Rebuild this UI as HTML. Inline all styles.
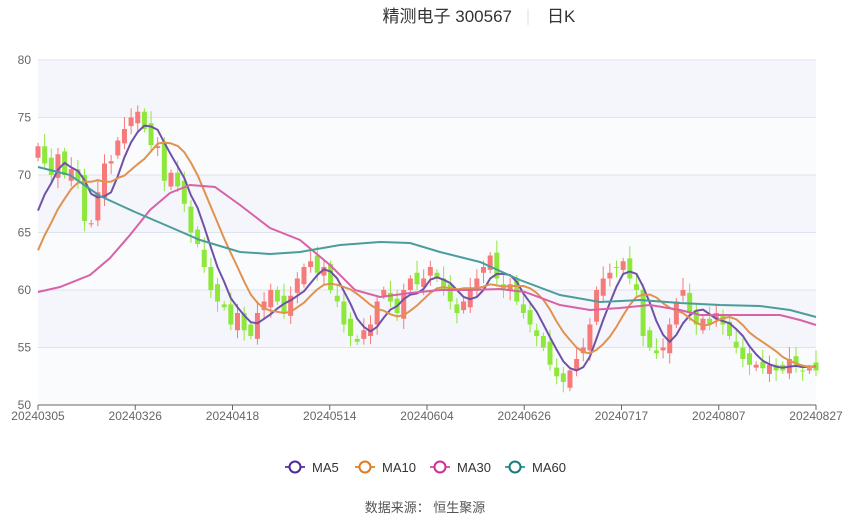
<!DOCTYPE html>
<html><head><meta charset="utf-8"><style>
body{margin:0;background:#fff;width:850px;height:517px;overflow:hidden;font-family:"Liberation Sans","Noto Sans CJK SC",sans-serif}
</style></head><body>
<svg id="s" width="850" height="517" xmlns="http://www.w3.org/2000/svg" font-family="Liberation Sans, Noto Sans CJK SC, sans-serif">
<text x="512" y="22" font-size="17" fill="#333" text-anchor="end">精测电子 300567</text>
<line x1="528" y1="9" x2="528" y2="25" stroke="#ddd"/>
<text x="547" y="22" font-size="17" fill="#333">日K</text>
<g id="g"></g>
<g font-size="13" fill="#333">
<line x1="285" y1="467" x2="305" y2="467" stroke="#6a4aa5" stroke-width="2"/><circle cx="295" cy="467" r="5.5" fill="#fff" stroke="#4b2a9a" stroke-width="2"/><text x="312" y="472">MA5</text>
<line x1="355" y1="467" x2="375" y2="467" stroke="#e0904a" stroke-width="2"/><circle cx="365" cy="467" r="5.5" fill="#fff" stroke="#e07a20" stroke-width="2"/><text x="382" y="472">MA10</text>
<line x1="430" y1="467" x2="450" y2="467" stroke="#d860a8" stroke-width="2"/><circle cx="440" cy="467" r="5.5" fill="#fff" stroke="#d02f90" stroke-width="2"/><text x="457" y="472">MA30</text>
<line x1="505" y1="467" x2="525" y2="467" stroke="#4aa0a0" stroke-width="2"/><circle cx="515" cy="467" r="5.5" fill="#fff" stroke="#167c7c" stroke-width="2"/><text x="532" y="472">MA60</text>
</g>
<text x="425" y="512" font-size="13" fill="#555" text-anchor="middle">数据来源：  恒生聚源</text>
</svg>
<script>
var g=document.getElementById('g'),h='';
function Y(v){return 405-(v-50)*11.5}
var bands=[[80,75,'#f5f6fb'],[75,70,'#fafbfd'],[70,65,'#f5f6fb'],[65,60,'#fafbfd'],[60,55,'#f5f6fb'],[55,50,'#fafbfd']];
bands.forEach(function(b){h+='<rect x="38" y="'+Y(b[0])+'" width="778" height="57.5" fill="'+b[2]+'"/>';});
for(var v=50;v<=80;v+=5){h+='<line x1="38" x2="816" y1="'+Y(v)+'" y2="'+Y(v)+'" stroke="#dfe3ee"/>';h+='<text x="31" y="'+(Y(v)+4)+'" font-size="12" fill="#666" text-anchor="end">'+v+'</text>';}
h+='<line x1="38" x2="816" y1="405" y2="405" stroke="#666"/>';
var lab=['20240305','20240326','20240418','20240514','20240604','20240626','20240717','20240807','20240827'];
lab.forEach(function(l,i){var x=38+i*97.25;h+='<line x1="'+x+'" x2="'+x+'" y1="405" y2="410" stroke="#666"/><text x="'+x+'" y="420" font-size="12" fill="#666" text-anchor="middle">'+l+'</text>';});
var c=[72.5,71,70,71.8,70,70.5,69.5,66,65.8,68.5,71,71.2,73,74,75,75.5,74,72.6,72.5,69.5,70.2,69,67.5,65,64,62,60,59,58.5,57,58,56.5,56,58,59,60,59,58,59.5,61,62,62.5,61.5,62,60,59,57,56,55.5,56.5,57,59,60,59,58,60,61,60.5,61,62,61,60,59,58,59,60,61,62,63,61,60,60.5,59,58,57,56,55,53.5,52.5,52,53,54,55,57,60,61,61.5,62,62.5,61,60,56,55,54.5,55,57,59,60,58,57,57.5,57,58,57,56,55,54,53.5,53.5,53.2,53.5,53,53,54,53.5,53,53.2,53];
var n=c.length,step=778/(n-1),o=[];
for(var i=0;i<n;i++){var op=i==0?71.5:c[i-1]+((i*7)%5-2)*0.25;o.push(op);
var x=38+i*step,up=c[i]>op,col=up?'#f77a7a':'#8ee83c';
var hi=Math.max(op,c[i])+0.3+((i*3)%4)*0.25,lo=Math.min(op,c[i])-0.3-((i*5)%4)*0.2;
h+='<line x1="'+x+'" x2="'+x+'" y1="'+Y(hi)+'" y2="'+Y(lo)+'" stroke="'+col+'"/>';
var t=Y(Math.max(op,c[i])),bh=Math.max(1,Y(Math.min(op,c[i]))-t);
h+='<rect x="'+(x-2.5)+'" y="'+t+'" width="5" height="'+bh+'" fill="'+col+'"/>';}
var pre=[58,59,60,61,62,64,65,66,67],all=pre.concat(c);
function ma(k){var p=[];for(var i=0;i<n;i++){var j=i+pre.length,s=0;for(var q=0;q<k;q++)s+=all[j-q];p.push((38+i*step).toFixed(1)+','+Y(s/k).toFixed(1));}return p.join(' ');}
h+='<polyline points="'+ma(5)+'" fill="none" stroke="#6f52a8" stroke-width="2" stroke-linejoin="round"/>';
h+='<polyline points="'+ma(10)+'" fill="none" stroke="#e0924e" stroke-width="2" stroke-linejoin="round"/>';
var m30="38,292 60,287 90,275 110,258 130,235 150,210 170,193 190,185 215,187 240,205 270,228 300,240 330,265 355,290 380,297 410,293 440,290 470,290 500,289 525,292 560,305 590,310 620,308 650,305 680,310 700,315 740,315 780,315 800,320 816,325";
var m60="38,167 70,175 100,196 135,212 170,227 200,240 240,252 270,254 300,252 340,245 380,242 410,243 440,252 480,262 520,280 560,295 600,302 640,300 680,303 720,305 760,306 790,310 816,317";
h+='<polyline points="'+m30+'" fill="none" stroke="#d862a6" stroke-width="2"/>';
h+='<polyline points="'+m60+'" fill="none" stroke="#4a9d9c" stroke-width="2"/>';
g.innerHTML=h;
</script>
</body></html>
